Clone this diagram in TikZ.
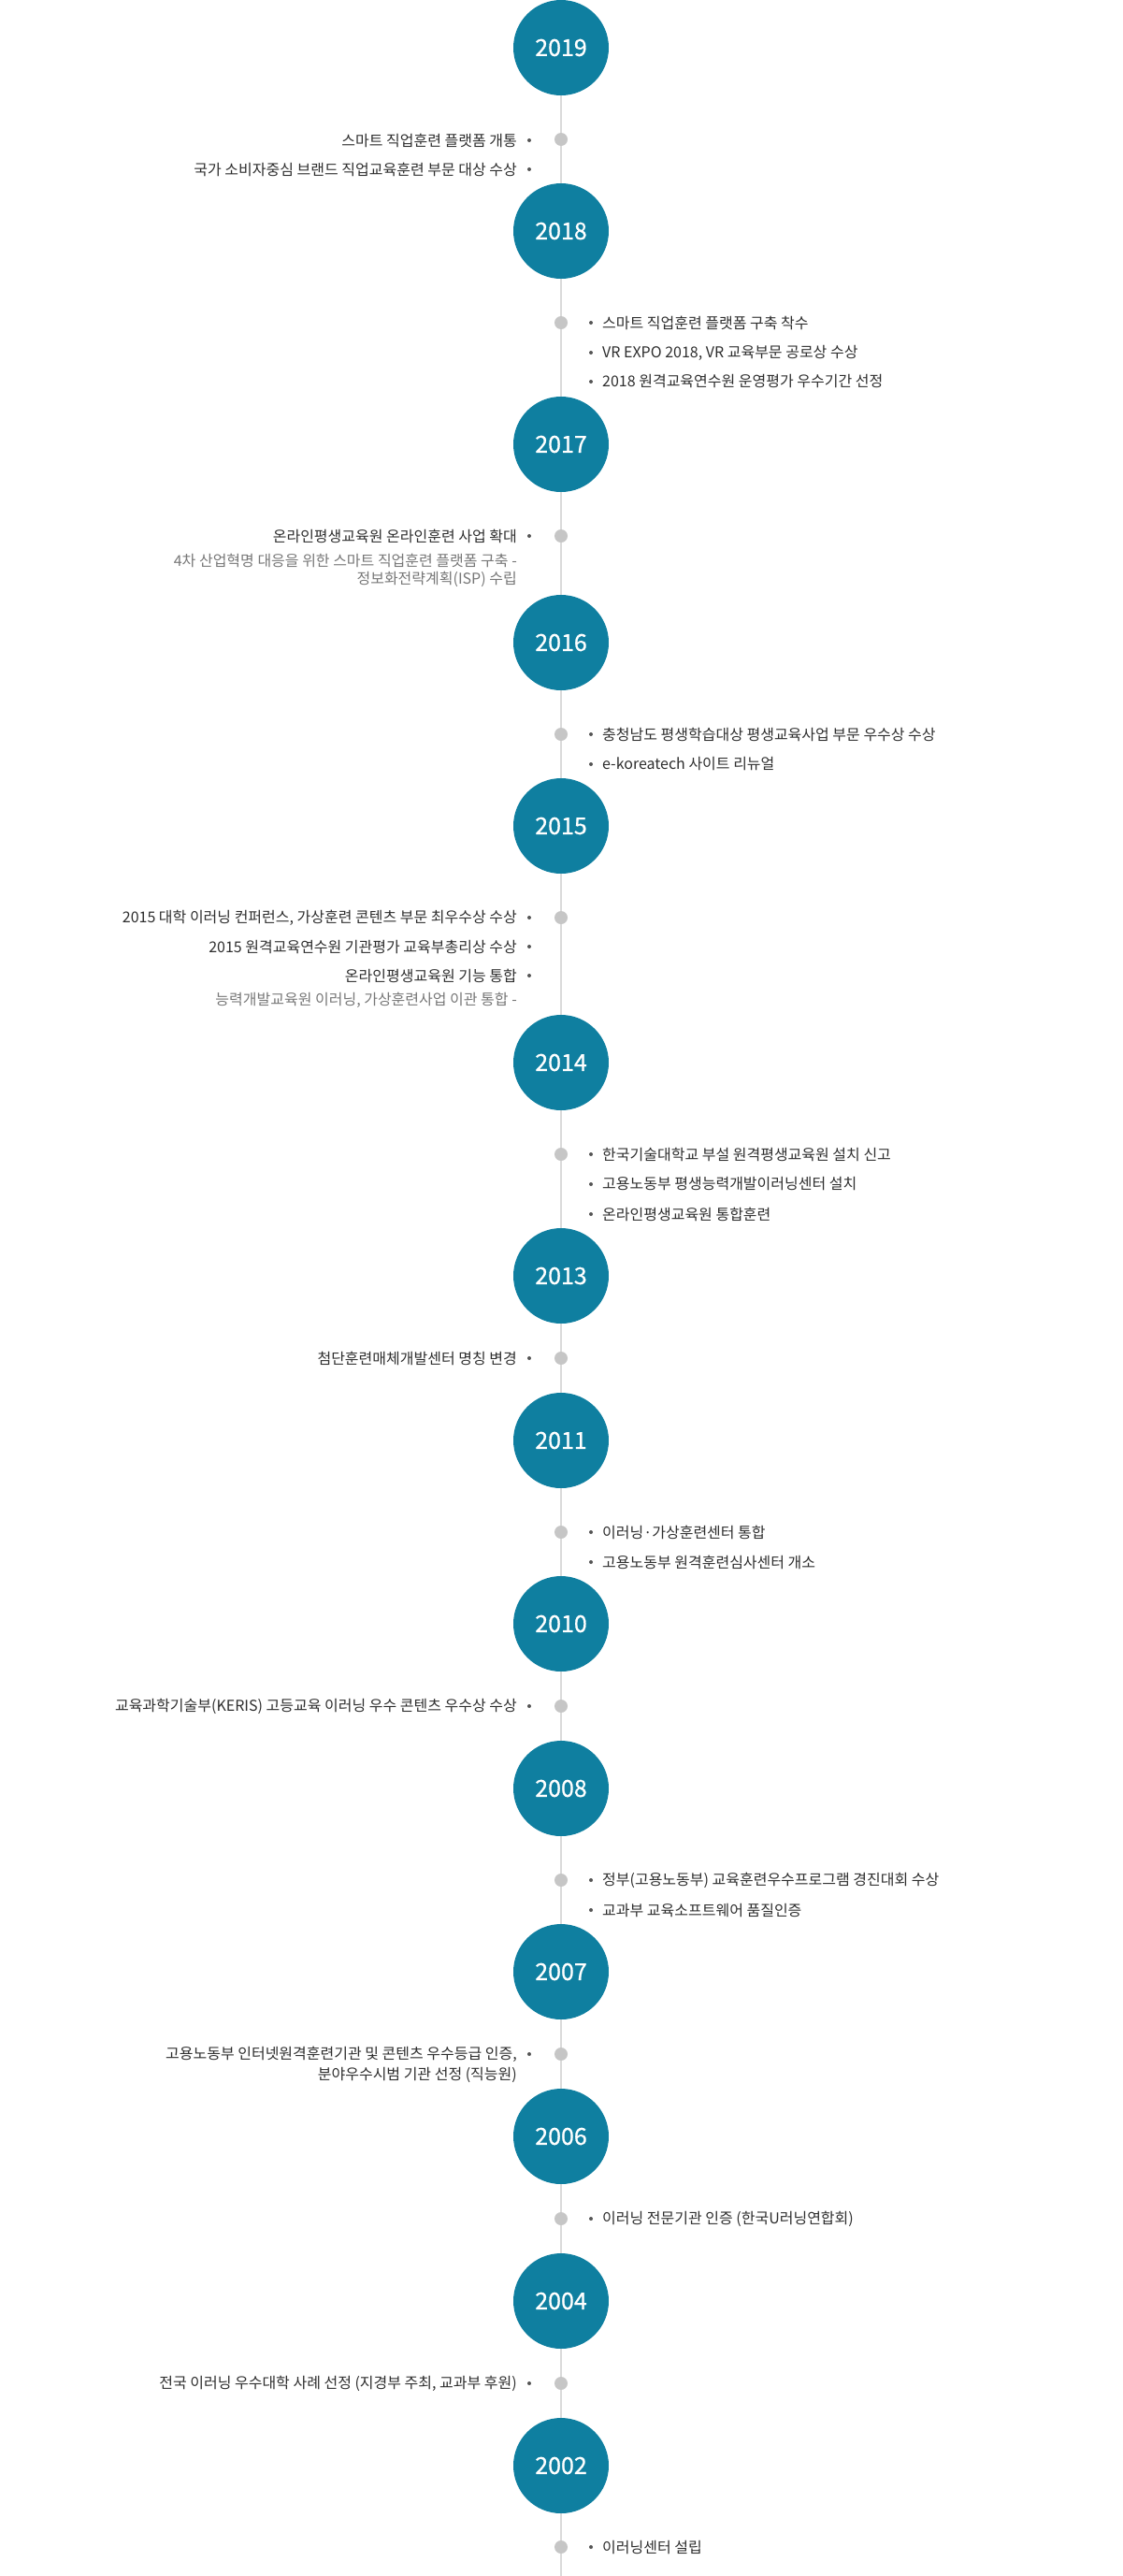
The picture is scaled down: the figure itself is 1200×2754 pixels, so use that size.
\documentclass[tikz,border=0pt]{standalone}
\usepackage{fontspec}
\setmainfont{Noto Sans CJK KR}
\newfontfamily\chiffres[FakeBold=0.7]{Noto Sans CJK KR}
\definecolor{bleu}{HTML}{0F7FA0}
\definecolor{gris}{HTML}{C6C6C6}
\definecolor{trait}{HTML}{DADADA}
\definecolor{puceg}{HTML}{555555}
\definecolor{texte}{HTML}{2E2E2E}
\definecolor{note}{HTML}{777777}

\begin{document}
\begin{tikzpicture}[x=1pt, y=-1pt,
  annee/.style={circle, fill=bleu, minimum size=102pt, inner sep=0pt, text=white, font=\chiffres\fontsize{25pt}{27pt}\selectfont},
  point/.style={circle, fill=gris, minimum size=14pt, inner sep=0pt},
  puce/.style={circle, fill=puceg, minimum size=4pt, inner sep=0pt},
  gauche/.style={anchor=east, inner sep=0pt, text=texte, align=right, font=\fontsize{16pt}{22pt}\selectfont},
  droite/.style={anchor=west, inner sep=0pt, text=texte, font=\fontsize{16pt}{22pt}\selectfont},
  remarque/.style={anchor=east, inner sep=0pt, text=note, align=right, font=\fontsize{16pt}{19pt}\selectfont},
  ligne/.style={draw=trait, line width=1.2pt}]

\useasboundingbox (0,0) rectangle (1200,2754);

% Années
\node[annee] (a2019) at (600,51) {2019};
\node[annee] (a2018) at (600,247) {2018};
\node[annee] (a2017) at (600,475) {2017};
\node[annee] (a2016) at (600,687) {2016};
\node[annee] (a2015) at (600,883) {2015};
\node[annee] (a2014) at (600,1136) {2014};
\node[annee] (a2013) at (600,1364) {2013};
\node[annee] (a2011) at (600,1540) {2011};
\node[annee] (a2010) at (600,1736) {2010};
\node[annee] (a2008) at (600,1912) {2008};
\node[annee] (a2007) at (600,2108) {2007};
\node[annee] (a2006) at (600,2284) {2006};
\node[annee] (a2004) at (600,2460) {2004};
\node[annee] (a2002) at (600,2636) {2002};
\coordinate (fin) at (600,2754);

% Points
\node[point] (p2019) at (600,149) {};
\node[point] (p2018) at (600,345) {};
\node[point] (p2017) at (600,573) {};
\node[point] (p2016) at (600,785) {};
\node[point] (p2015) at (600,981) {};
\node[point] (p2014) at (600,1234) {};
\node[point] (p2013) at (600,1452) {};
\node[point] (p2011) at (600,1638) {};
\node[point] (p2010) at (600,1824) {};
\node[point] (p2008) at (600,2010) {};
\node[point] (p2007) at (600,2196) {};
\node[point] (p2006) at (600,2372) {};
\node[point] (p2004) at (600,2548) {};
\node[point] (p2002) at (600,2723) {};

% Ligne
\draw[ligne] (a2019) -- (p2019) -- (a2018) -- (p2018) -- (a2017) -- (p2017) -- (a2016) -- (p2016) -- (a2015) -- (p2015) -- (a2014) -- (p2014) -- (a2013) -- (p2013) -- (a2011) -- (p2011) -- (a2010) -- (p2010) -- (a2008) -- (p2008) -- (a2007) -- (p2007) -- (a2006) -- (p2006) -- (a2004) -- (p2004) -- (a2002) -- (p2002) -- (fin);

% 2019
\node[puce] (b1) at (566,150) {};
\node[gauche] (t1) at (553,150) {스마트 직업훈련 플랫폼 개통};
\node[puce] (b2) at (566,181) {};
\node[gauche] (t2) at (553,181) {국가 소비자중심 브랜드 직업교육훈련 부문 대상 수상};

% 2018
\node[puce] (b3) at (632,345) {};
\node[droite] (t3) at (644,345) {스마트 직업훈련 플랫폼 구축 착수};
\node[puce] (b4) at (632,377) {};
\node[droite] (t4) at (644,377) {VR EXPO 2018, VR 교육부문 공로상 수상};
\node[puce] (b5) at (632,408) {};
\node[droite] (t5) at (644,408) {2018 원격교육연수원 운영평가 우수기간 선정};

% 2017
\node[puce] (b6) at (566,573) {};
\node[gauche] (t6) at (553,573) {온라인평생교육원 온라인훈련 사업 확대};
\node[remarque] (n1) at (553,609.5) {4차 산업혁명 대응을 위한 스마트 직업훈련 플랫폼 구축 -\\정보화전략계획(ISP) 수립};

% 2016
\node[puce] (b7) at (632,785) {};
\node[droite] (t7) at (644,785) {충청남도 평생학습대상 평생교육사업 부문 우수상 수상};
\node[puce] (b8) at (632,817) {};
\node[droite] (t8) at (644,817) {e-koreatech 사이트 리뉴얼};

% 2015
\node[puce] (b9) at (566,981) {};
\node[gauche] (t9) at (553,981) {2015 대학 이러닝 컨퍼런스, 가상훈련 콘텐츠 부문 최우수상 수상};
\node[puce] (b10) at (566,1012) {};
\node[gauche] (t10) at (553,1012) {2015 원격교육연수원 기관평가 교육부총리상 수상};
\node[puce] (b11) at (566,1043) {};
\node[gauche] (t11) at (553,1043) {온라인평생교육원 기능 통합};
\node[remarque] (n2) at (553,1069) {능력개발교육원 이러닝, 가상훈련사업 이관 통합 -};

% 2014
\node[puce] (b12) at (632,1234) {};
\node[droite] (t12) at (644,1234) {한국기술대학교 부설 원격평생교육원 설치 신고};
\node[puce] (b13) at (632,1266) {};
\node[droite] (t13) at (644,1266) {고용노동부 평생능력개발이러닝센터 설치};
\node[puce] (b14) at (632,1298) {};
\node[droite] (t14) at (644,1298) {온라인평생교육원 통합훈련};

% 2013
\node[puce] (b15) at (566,1452) {};
\node[gauche] (t15) at (553,1452) {첨단훈련매체개발센터 명칭 변경};

% 2011
\node[puce] (b16) at (632,1638) {};
\node[droite] (t16) at (644,1638) {이러닝·가상훈련센터 통합};
\node[puce] (b17) at (632,1670) {};
\node[droite] (t17) at (644,1670) {고용노동부 원격훈련심사센터 개소};

% 2010
\node[puce] (b18) at (566,1824) {};
\node[gauche] (t18) at (553,1824) {교육과학기술부(KERIS) 고등교육 이러닝 우수 콘텐츠 우수상 수상};

% 2008
\node[puce] (b19) at (632,2010) {};
\node[droite] (t19) at (644,2010) {정부(고용노동부) 교육훈련우수프로그램 경진대회 수상};
\node[puce] (b20) at (632,2042) {};
\node[droite] (t20) at (644,2042) {교과부 교육소프트웨어 품질인증};

% 2007
\node[puce] (b21) at (566,2196) {};
\node[gauche] (t21) at (553,2207) {고용노동부 인터넷원격훈련기관 및 콘텐츠 우수등급 인증,\\분야우수시범 기관 선정 (직능원)};

% 2006
\node[puce] (b22) at (632,2372) {};
\node[droite] (t22) at (644,2372) {이러닝 전문기관 인증 (한국U러닝연합회)};

% 2004
\node[puce] (b23) at (566,2548) {};
\node[gauche] (t23) at (553,2548) {전국 이러닝 우수대학 사례 선정 (지경부 주최, 교과부 후원)};

% 2002
\node[puce] (b24) at (632,2723) {};
\node[droite] (t24) at (644,2723) {이러닝센터 설립};

\end{tikzpicture}
\end{document}
